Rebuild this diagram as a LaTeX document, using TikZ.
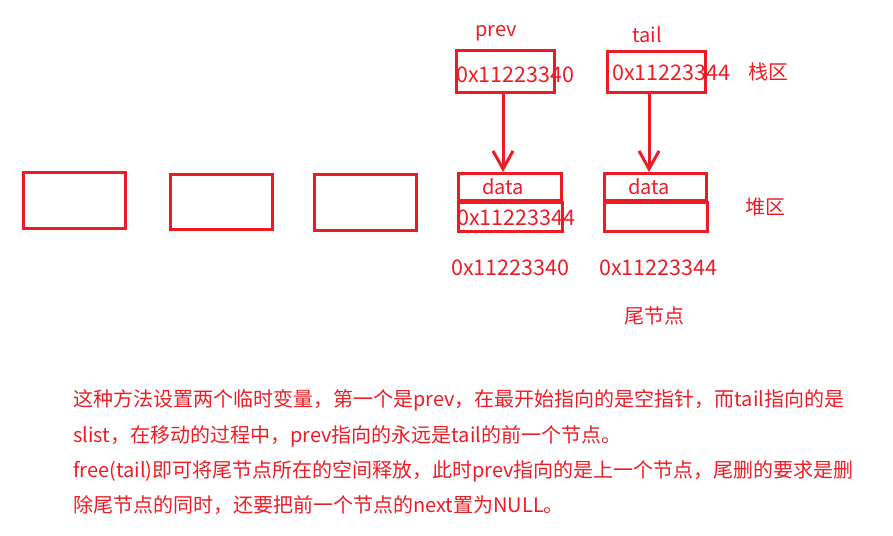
\documentclass[tikz,border=0pt]{standalone}
\usepackage{fontspec}
\setmainfont{Noto Sans CJK SC}
\usetikzlibrary{arrows.meta}
\definecolor{inkred}{RGB}{237,28,36}
\tikzset{
  cell/.style={draw=inkred, line width=3pt, inner sep=0pt},
  lbl/.style={text=inkred, inner sep=0pt, font=\fontsize{20}{24}\selectfont},
  hex/.style={lbl, anchor=west, font=\fontsize{21.5}{25}\selectfont},
  ptr/.style={draw=inkred, line width=3pt, -{Straight Barb[length=18pt, width=20pt, line width=3pt]}}
}
\begin{document}
\begin{tikzpicture}[x=1pt, y=-1pt]
  \useasboundingbox (0,0) rectangle (893,535);
  % stack: the two pointer variables
  \node[cell, minimum width=98pt, minimum height=41pt] (prevbox) at (505.5,71.5) {};
  \node[cell, minimum width=98pt, minimum height=41pt] (tailbox) at (656.5,72) {};
  \node[lbl] (prevname) at (496,33) {prev};
  \node[lbl] (tailname) at (647,35) {tail};
  \node[hex] (prevval) at (456,75) {0x11223340};
  \node[hex] (tailval) at (612,73) {0x11223344};
  \node[lbl, anchor=west] (stack) at (748,72) {栈区};
  % heap: the list nodes
  \node[cell, minimum width=102pt, minimum height=56pt] (nodeA) at (74.5,200.5) {};
  \node[cell, minimum width=102pt, minimum height=55pt] (nodeB) at (221.5,202) {};
  \node[cell, minimum width=102pt, minimum height=56pt] (nodeC) at (365.5,202.5) {};
  \node[cell, minimum width=103pt, minimum height=27pt] (topD) at (510,187) {};
  \node[cell, minimum width=104pt, minimum height=29pt] (botD) at (510.5,216.5) {};
  \node[cell, minimum width=102pt, minimum height=27pt] (topE) at (655.5,187) {};
  \node[cell, minimum width=103pt, minimum height=29pt] (botE) at (656,216.5) {};
  \node[lbl] (dataD) at (503,187) {data};
  \node[lbl] (dataE) at (649,187) {data};
  \node[hex] (nextD) at (457,218) {0x11223344};
  \node[lbl, anchor=west] (heap) at (745,207) {堆区};
  \node[hex] (addrD) at (451,268) {0x11223340};
  \node[hex] (addrE) at (599,268) {0x11223344};
  \node[lbl, anchor=west] (tailnote) at (624,316) {尾节点};
  % pointers
  \draw[ptr] (prevbox.south -| dataD) -- (dataD |- topD.north);
  \draw[ptr] (tailbox.south -| dataE) -- (dataE |- topE.north);
  % explanation
  \node[lbl, anchor=west] (line1) at (73,400) {这种方法设置两个临时变量，第一个是prev，在最开始指向的是空指针，而tail指向的是};
  \node[lbl, anchor=west] (line2) at (73,436) {slist，在移动的过程中，prev指向的永远是tail的前一个节点。};
  \node[lbl, anchor=west] (line3) at (73,471) {free(tail)即可将尾节点所在的空间释放，此时prev指向的是上一个节点，尾删的要求是删};
  \node[lbl, anchor=west] (line4) at (73,505) {除尾节点的同时，还要把前一个节点的next置为NULL。};
\end{tikzpicture}
\end{document}
